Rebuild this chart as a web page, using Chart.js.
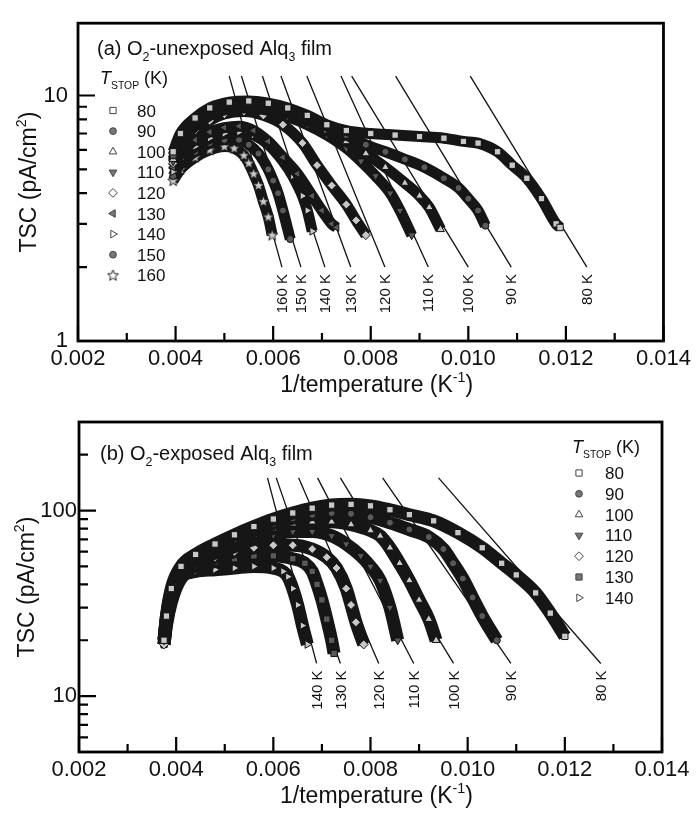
<!DOCTYPE html>
<html><head><meta charset="utf-8">
<script src="https://cdn.jsdelivr.net/npm/chart.js@4.4.0/dist/chart.umd.min.js"></script>
<style>
html,body{margin:0;padding:0;background:#fff;}
#wrap{position:relative;width:696px;height:814px;}
canvas{position:absolute;left:0;}
#ca{top:0;} #cb{top:400px;}
</style></head><body>
<div id="wrap"><canvas id="ca" width="696" height="400"></canvas><canvas id="cb" width="696" height="414"></canvas></div>
<script>
// ---------- axis ticks ----------
const xTicks = [0.002, 0.004, 0.006, 0.008, 0.010, 0.012, 0.014];
const xMinor = [0.003, 0.005, 0.007, 0.009, 0.011, 0.013];
const yTicksA = [1, 10];
const yMinorA = [2, 3, 4, 5, 6, 7, 8, 9];
const yTicksB = [10, 100];
const yMinorB = [6, 7, 8, 9, 20, 30, 40, 50, 60, 70, 80, 90, 200];

// ---------- panel (a): O2-unexposed ----------
const tStopA = [80, 90, 100, 110, 120, 130, 140, 150, 160];
const a80 = [[0.00395,5.9],[0.0041,7.0],[0.0044,8.1],[0.0047,8.9],[0.0051,9.4],[0.0055,9.5],[0.0059,9.3],[0.0063,8.9],[0.0067,8.3],[0.0071,7.6],[0.0075,7.2],[0.0080,7.0],[0.0085,6.9],[0.0090,6.8],[0.0095,6.7],[0.0099,6.5],[0.0102,6.4],[0.0106,5.9],[0.0109,5.2],[0.0112,4.6],[0.0115,3.8],[0.0118,3.0],[0.01188,2.9]];
const a90 = [[0.00395,5.7],[0.0041,6.8],[0.0044,7.9],[0.0047,8.7],[0.0051,9.2],[0.0055,9.3],[0.0059,9.1],[0.0063,8.7],[0.0067,8.1],[0.0071,7.5],[0.0075,6.9],[0.0079,6.3],[0.0083,5.9],[0.0087,5.5],[0.0091,5.1],[0.0095,4.6],[0.0098,4.2],[0.0100,3.8],[0.0102,3.4],[0.01035,2.95]];
const a100 = [[0.00395,5.5],[0.0041,6.6],[0.0044,7.7],[0.0047,8.5],[0.0051,9.0],[0.0055,9.1],[0.0059,8.9],[0.0063,8.5],[0.0067,7.9],[0.0071,7.2],[0.0075,6.5],[0.0079,5.8],[0.0083,5.1],[0.0087,4.4],[0.0090,3.9],[0.0092,3.5],[0.00943,2.85]];
const a110 = [[0.00395,5.4],[0.0041,6.4],[0.0044,7.5],[0.0047,8.3],[0.0051,8.8],[0.0055,8.9],[0.0059,8.7],[0.0063,8.2],[0.0067,7.6],[0.0071,6.9],[0.0075,6.1],[0.0078,5.4],[0.0081,4.7],[0.0084,4.0],[0.0086,3.4],[0.00884,2.7]];
const a120 = [[0.00395,5.3],[0.0041,6.2],[0.0044,7.2],[0.0047,7.9],[0.0050,8.4],[0.0054,8.6],[0.0058,8.3],[0.0062,7.6],[0.0066,6.4],[0.0069,5.2],[0.0072,4.3],[0.0075,3.6],[0.0077,3.1],[0.0079,2.7]];
const a130 = [[0.00395,5.1],[0.0041,5.8],[0.0044,6.6],[0.0047,7.1],[0.0050,7.4],[0.0053,7.5],[0.0056,7.2],[0.0059,6.5],[0.0062,5.6],[0.0065,4.8],[0.0068,3.9],[0.0070,3.4],[0.0072,3.0],[0.0073,2.9]];
const a140 = [[0.00395,4.9],[0.0041,5.5],[0.0044,6.2],[0.0047,6.7],[0.0050,7.0],[0.0053,7.1],[0.0056,6.9],[0.0059,6.3],[0.0062,5.4],[0.0064,4.7],[0.0066,3.9],[0.0067,3.4],[0.0068,2.8]];
const a150 = [[0.00395,4.7],[0.0041,5.3],[0.0044,5.9],[0.0047,6.4],[0.0050,6.6],[0.0053,6.6],[0.0055,6.3],[0.0057,5.8],[0.0059,5.0],[0.0060,4.5],[0.0061,4.0],[0.0062,3.4],[0.00635,2.6]];
const a160 = [[0.00395,4.5],[0.0041,5.0],[0.0044,5.6],[0.0047,6.0],[0.0050,6.2],[0.0052,6.1],[0.0054,5.7],[0.0055,5.3],[0.0056,4.8],[0.0057,4.3],[0.0058,3.7],[0.0059,3.2],[0.00598,2.7]];
const curvesA = [a80, a90, a100, a110, a120, a130, a140, a150, a160];
const fitTopXA = [0.01004, 0.00851, 0.00761, 0.00739, 0.00669, 0.00616, 0.00578, 0.00535, 0.00510];
const fitBotXA = [0.01243, 0.01088, 0.01000, 0.00918, 0.00829, 0.00759, 0.00706, 0.00657, 0.00618];
const fitYA = [12, 2];

// ---------- panel (b): O2-exposed ----------
const tStopB = [80, 90, 100, 110, 120, 130, 140];
const b80 = [[0.00375,20],[0.0038,27],[0.0039,38],[0.0041,50],[0.0044,58],[0.0048,66],[0.0052,74],[0.0056,82],[0.0060,90],[0.0064,97],[0.0068,103],[0.0072,107],[0.0076,108],[0.0080,106],[0.0084,101],[0.0088,95],[0.0093,88],[0.0098,76],[0.0103,63],[0.0107,52],[0.0110,45],[0.0114,36],[0.0117,28],[0.0120,21]];
const b90 = [[0.00375,20],[0.0038,27],[0.0039,37],[0.0041,49],[0.0044,56],[0.0048,63],[0.0052,70],[0.0056,78],[0.0060,85],[0.0064,91],[0.0068,95],[0.0072,97],[0.0076,96],[0.0080,92],[0.0084,86],[0.0088,79],[0.0092,72],[0.0095,62],[0.0097,52],[0.0099,43],[0.0101,34],[0.0103,27],[0.0106,20]];
const b100 = [[0.00375,20],[0.0038,26],[0.0039,36],[0.0041,48],[0.0044,55],[0.0048,61],[0.0052,67],[0.0056,74],[0.0060,80],[0.0064,85],[0.0068,87],[0.0072,87],[0.0076,84],[0.0080,78],[0.0082,73],[0.0084,63],[0.0086,52],[0.0088,42],[0.0090,33],[0.0092,26],[0.00935,20]];
const b110 = [[0.00375,20],[0.0038,26],[0.0039,35],[0.0041,47],[0.0044,54],[0.0048,59],[0.0052,64],[0.0056,70],[0.0060,74],[0.0064,77],[0.0068,77],[0.0072,73],[0.0075,66],[0.0078,57],[0.0080,50],[0.0082,42],[0.0084,30],[0.00856,20]];
const b120 = [[0.00375,19],[0.0038,25],[0.0039,34],[0.0041,46],[0.0044,52],[0.0048,56],[0.0052,60],[0.0056,63],[0.0060,65],[0.0064,65],[0.0068,62],[0.0071,56],[0.0073,49],[0.0075,38],[0.0076,31],[0.0077,25],[0.00786,19]];
const b130 = [[0.00375,19],[0.0038,25],[0.0039,33],[0.0041,45],[0.0044,50],[0.0048,53],[0.0052,55],[0.0056,57],[0.0060,57],[0.0064,55],[0.00665,52],[0.0068,47],[0.0069,40],[0.0070,33],[0.0071,26],[0.0072,20],[0.00725,17]];
const b140 = [[0.00375,19],[0.0038,24],[0.0039,32],[0.0041,43],[0.0044,47],[0.0048,48],[0.0052,49],[0.0056,50],[0.0060,49],[0.0062,47],[0.0063,44],[0.0064,38],[0.0065,31],[0.0066,24],[0.0067,19]];
const curvesB = [b80, b90, b100, b110, b120, b130, b140];
const fitTopXB = [0.00940, 0.00825, 0.00738, 0.00691, 0.00652, 0.00606, 0.00588];
const fitBotXB = [0.01274, 0.01089, 0.00971, 0.00889, 0.00817, 0.00738, 0.00689];
const fitYB = [150, 15];

// ---------- styles ----------
const FF = '"Liberation Sans", Arial, Helvetica, sans-serif';
function makeStar(fill) {
  const c = document.createElement('canvas'); c.width = 13; c.height = 13;
  const g = c.getContext('2d'); g.beginPath();
  for (let i = 0; i < 10; i++) {
    const a = -Math.PI/2 + i*Math.PI/5, r = (i % 2) ? 2.5 : 5.8;
    g.lineTo(6.5 + r*Math.cos(a), 6.8 + r*Math.sin(a));
  }
  g.closePath(); g.fillStyle = fill; g.fill(); g.strokeStyle = '#222'; g.lineWidth = 1; g.stroke();
  return c;
}
const STAR = makeStar('#fff');
const STAR_PLOT = makeStar('#c8c8c8');
function markerFor(t, panel, inPlot) {
  const open = inPlot ? '#c8c8c8' : '#fff';
  const gray = inPlot ? '#5a5a5a' : '#777';
  switch (t) {
    case 80: return {s:'rect', r:0, f:open, rad:5};
    case 90: return {s:'circle', r:0, f:gray, rad:4};
    case 100: return {s:'triangle', r:0, f:open, rad:5};
    case 110: return {s:'triangle', r:180, f:gray, rad:5};
    case 120: return {s:'rectRot', r:0, f:open, rad:5};
    case 130: return panel === 'b' ? {s:'rect', r:0, f:gray, rad:5} : {s:'triangle', r:270, f:gray, rad:5};
    case 140: return {s:'triangle', r:90, f:open, rad:5};
    case 150: return {s:'circle', r:0, f:gray, rad:4};
    case 160: return {s: inPlot ? STAR_PLOT : STAR, r:0, f:open, rad:5};
  }
}

function rich(ctx, x, y, segs, size, align) {
  const parts = segs.map(s => {
    const sc = (s.sub || s.sup) ? (s.sc || 0.62) : 1;
    const font = (s.it ? 'italic ' : '') + (size*sc).toFixed(1) + 'px ' + FF;
    ctx.font = font;
    return {t: s.t, font, w: ctx.measureText(s.t).width, dy: s.sub ? size*0.3 : (s.sup ? -size*0.42 : 0)};
  });
  const total = parts.reduce((a, p) => a + p.w, 0);
  let cx = align === 'center' ? x - total/2 : (align === 'right' ? x - total : x);
  ctx.textAlign = 'left';
  parts.forEach(p => { ctx.font = p.font; ctx.fillText(p.t, cx, y + p.dy); cx += p.w; });
}

function buildPanel(id, P) {
  const datasets = [];
  P.curves.forEach((c, i) => {
    const m = markerFor(P.tStop[i], P.name, true);
    datasets.push({
      data: c.map(p => ({x: p[0], y: p[1]})),
      showLine: true, borderColor: '#161616', borderWidth: P.bandW,
      cubicInterpolationMode: 'monotone',
      pointStyle: m.s, pointRotation: m.r, pointRadius: m.rad - 0.5,
      pointBackgroundColor: m.f, pointBorderColor: '#111', pointBorderWidth: 1,
      order: 1
    });
  });
  P.fitTop.forEach((xt, i) => {
    datasets.push({
      data: [{x: xt, y: P.fitY[0]}, {x: P.fitBot[i], y: P.fitY[1]}],
      showLine: true, borderColor: '#111', borderWidth: 1.3, pointRadius: 0, order: 10
    });
  });

  const decor = {
    id: 'decor' + P.name,
    afterDraw(chart) {
      const ctx = chart.ctx, ca = chart.chartArea, xs = chart.scales.x, ys = chart.scales.y;
      ctx.save();
      ctx.strokeStyle = '#000'; ctx.lineCap = 'butt';
      ctx.lineWidth = 2.2;
      ctx.beginPath();
      xTicks.forEach(v => { const px = xs.getPixelForValue(v); ctx.moveTo(px, ca.bottom); ctx.lineTo(px, ca.bottom - 15); });
      xMinor.forEach(v => { const px = xs.getPixelForValue(v); ctx.moveTo(px, ca.bottom); ctx.lineTo(px, ca.bottom - 8); });
      P.yTicks.forEach(v => { const py = ys.getPixelForValue(v); ctx.moveTo(ca.left, py); ctx.lineTo(ca.left + 17, py); });
      P.yMinor.forEach(v => { const py = ys.getPixelForValue(v); ctx.moveTo(ca.left, py); ctx.lineTo(ca.left + 9, py); });
      ctx.stroke();
      ctx.lineWidth = 2.8;
      ctx.strokeRect(ca.left, ca.top, ca.right - ca.left, ca.bottom - ca.top);

      ctx.fillStyle = '#111';
      ctx.font = '15px ' + FF;
      P.fitBot.forEach((xb, i) => {
        const px = xs.getPixelForValue(xb), py = ys.getPixelForValue(P.fitY[1]);
        ctx.save(); ctx.translate(px + 1, py + 7); ctx.rotate(-Math.PI/2);
        ctx.textAlign = 'right'; ctx.textBaseline = 'middle';
        ctx.fillText(P.tStop[i] + ' K', 0, 0); ctx.restore();
      });
      ctx.textBaseline = 'alphabetic';
      rich(ctx, ca.left + P.titleDx, ca.top + P.titleDy, P.title, 20, 'left');
      rich(ctx, (ca.left + ca.right)/2 + 6, ca.bottom + 51, [{t:'1/temperature (K'},{t:'-1',sup:1},{t:')'}], 23, 'center');
      ctx.save(); ctx.translate(P.yTitleX, (ca.top + ca.bottom)/2); ctx.rotate(-Math.PI/2);
      rich(ctx, 0, 0, [{t:'TSC (pA/cm'},{t:'2',sup:1},{t:')'}], 23, 'center'); ctx.restore();
      const L = P.legend;
      rich(ctx, L.x, L.headY, [{t:'T', it:1},{t:'STOP', sub:1, sc:0.58},{t:' (K)'}], 18, 'left');
      P.tStop.forEach((t, i) => {
        const cy = L.y0 + i*L.dy, m = markerFor(t, P.name, false);
        ctx.save();
        ctx.fillStyle = m.f; ctx.strokeStyle = '#444'; ctx.lineWidth = 1;
        if (Chart.helpers && Chart.helpers.drawPoint) {
          Chart.helpers.drawPoint(ctx, {pointStyle: m.s, rotation: m.r, radius: m.rad - 0.6, borderWidth: 1}, L.mx, cy);
        }
        ctx.restore();
        ctx.fillStyle = '#111'; ctx.font = '17px ' + FF; ctx.textAlign = 'left';
        ctx.fillText(String(t), L.tx, cy + 6);
      });
      ctx.restore();
    }
  };

  return new Chart(document.getElementById(id), {
    type: 'scatter',
    data: {datasets},
    options: {
      responsive: false, animation: false, events: [],
      layout: {padding: {left: 0, top: P.padTop, right: P.padRight, bottom: 0}},
      plugins: {legend: {display: false}, tooltip: {enabled: false}},
      scales: {
        x: {
          type: 'linear', min: 0.002, max: 0.014,
          afterBuildTicks: s => { s.ticks = xTicks.map(v => ({value: v})); },
          afterFit: s => { s.height = P.xH; },
          grid: {display: false, drawTicks: false}, border: {display: false},
          ticks: {callback: v => Number(v).toFixed(3), font: {family: FF, size: 22}, color: '#111', padding: 5, maxRotation: 0}
        },
        y: {
          type: 'logarithmic', min: P.yMin, max: P.yMax,
          afterBuildTicks: s => { s.ticks = P.yTicks.map(v => ({value: v})); },
          afterFit: s => { s.width = P.yW; },
          grid: {display: false, drawTicks: false}, border: {display: false},
          ticks: {callback: v => String(v), font: {family: FF, size: 22}, color: '#111', padding: P.yPad}
        }
      }
    },
    plugins: [decor]
  });
}

buildPanel('ca', {
  name: 'a', curves: curvesA, tStop: tStopA, fitTop: fitTopXA, fitBot: fitBotXA, fitY: fitYA,
  yMin: 1, yMax: 19.7, yTicks: yTicksA, yMinor: yMinorA,
  padTop: 12, padRight: 30, xH: 59, yW: 78, yPad: 10, bandW: 11,
  title: [{t:'(a) O'},{t:'2',sub:1},{t:'-unexposed Alq'},{t:'3',sub:1},{t:' film'}],
  titleDx: 19, titleDy: 32, yTitleX: 36,
  legend: {x: 100, headY: 84, mx: 113, tx: 137, y0: 110.5, dy: 20.6}
});
buildPanel('cb', {
  name: 'b', curves: curvesB, tStop: tStopB, fitTop: fitTopXB, fitBot: fitBotXB, fitY: fitYB,
  yMin: 5, yMax: 300, yTicks: yTicksB, yMinor: yMinorB,
  padTop: 22, padRight: 34, xH: 62, yW: 79, yPad: 2, bandW: 13,
  title: [{t:'(b) O'},{t:'2',sub:1},{t:'-exposed Alq'},{t:'3',sub:1},{t:' film'}],
  titleDx: 21, titleDy: 38, yTitleX: 34,
  legend: {x: 572, headY: 53, mx: 579, tx: 605, y0: 73, dy: 20.8}
});
</script>
</body></html>
